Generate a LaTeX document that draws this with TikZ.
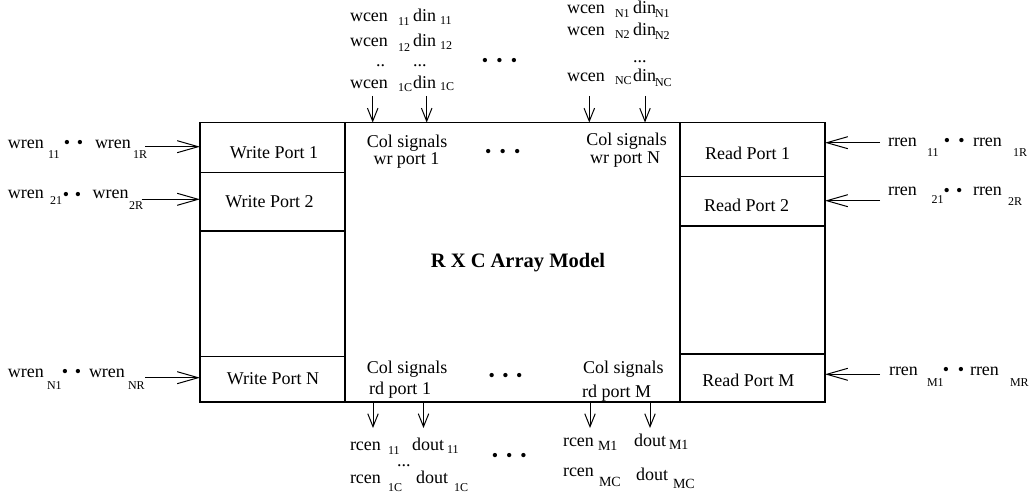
\documentclass[tikz,border=0pt]{standalone}
\usepackage{fontspec}
\setmainfont{Liberation Serif}
\usetikzlibrary{arrows.meta}
\tikzset{
  box/.style={draw, line width=1.25pt, inner sep=0pt, outer sep=0pt, anchor=north west},
  lbl/.style={inner sep=0pt, outer sep=0pt, anchor=base west, font=\fontsize{18}{20}\selectfont},
  sublbl/.style={inner sep=0pt, outer sep=0pt, anchor=base west, font=\fontsize{12}{12}\selectfont},
  bigsub/.style={inner sep=0pt, outer sep=0pt, anchor=base west, font=\fontsize{14}{14}\selectfont},
  ctr/.style={inner sep=0pt, outer sep=0pt, anchor=base, font=\fontsize{18}{20}\selectfont},
  titlelbl/.style={inner sep=0pt, outer sep=0pt, anchor=base, font=\fontsize{20.5}{22}\selectfont\bfseries},
  hsig/.style={line width=1pt, -{Straight Barb[length=21pt,width=12pt]}},
  vsig/.style={line width=1pt, -{Straight Barb[length=13pt,width=10.5pt]}}
}
\newcommand{\mylbl}[4]{\node[lbl] (#1) at (#2,#3) {#4};}
\newcommand{\mysub}[4]{\node[sublbl] (#1) at (#2,#3) {#4};}
\newcommand{\mybsub}[4]{\node[bigsub] (#1) at (#2,#3) {#4};}
\newcommand{\twodots}[4]{\node[lbl] (#1) at (#2,#3) {•\hspace{#4}•};}
\newcommand{\threedots}[4]{\node[lbl] (#1) at (#2,#3) {•\hspace{#4}•\hspace{#4}•};}
\begin{document}
\begin{tikzpicture}[x=1pt,y=-1pt]
\fill[white] (0,0) rectangle (1031,497);
\useasboundingbox (0,0) rectangle (1031,497);

% main blocks
\node[box, minimum width=145pt, minimum height=279.5pt] (wcol) at (200,122.5) {};
\node[box, minimum width=335pt, minimum height=279.5pt] (arr) at (345,122.5) {};
\node[box, minimum width=145pt, minimum height=279.5pt] (rcol) at (680,122.5) {};
\node[box, minimum width=145pt, minimum height=50pt] (wp1) at (200,122.5) {};
\node[box, minimum width=145pt, minimum height=58.5pt] (wp2) at (200,172.5) {};
\node[box, minimum width=145pt, minimum height=45.5pt] (wpN) at (200,356.5) {};
\node[box, minimum width=145pt, minimum height=54pt] (rp1) at (680,122.5) {};
\node[box, minimum width=145pt, minimum height=49.5pt] (rp2) at (680,176.5) {};
\node[box, minimum width=145pt, minimum height=48pt] (rpM) at (680,354) {};

% port labels
\node[ctr] (twp1) at (274,158.3) {Write Port 1};
\node[ctr] (twp2) at (269.5,207.3) {Write Port 2};
\node[ctr] (twpN) at (273,384) {Write Port N};
\node[ctr] (trp1) at (747.5,160) {Read Port 1};
\node[ctr] (trp2) at (746.5,211.7) {Read Port 2};
\node[ctr] (trpM) at (748.3,386) {Read Port M};

% array contents
\node[ctr] (cw1a) at (407,147.3) {Col signals};
\node[ctr] (cw1b) at (406.5,164.5) {wr port 1};
\node[ctr] (cwNa) at (626.5,145.7) {Col signals};
\node[ctr] (cwNb) at (625,163.3) {wr port N};
\node[ctr] (cr1a) at (407,373.5) {Col signals};
\node[ctr] (cr1b) at (400,394.5) {rd port 1};
\node[ctr] (crMa) at (623.3,373.5) {Col signals};
\node[ctr] (crMb) at (616.7,397) {rd port M};
\node[titlelbl] (title) at (518,267) {R X C Array Model};
\threedots{adt}{485.2}{157.7}{8.2pt}
\threedots{adb}{488.5}{381.7}{7.5pt}

% top inputs
\mylbl{tw1}{350}{21.7}{wcen}  \mysub{tw1s}{398}{26}{11}
\mylbl{td1}{413}{21.7}{din}   \mysub{td1s}{440}{25}{11}
\mylbl{tw2}{350}{46.7}{wcen}  \mysub{tw2s}{398}{51.5}{12}
\mylbl{td2}{413}{46.7}{din}   \mysub{td2s}{440}{50}{12}
\mylbl{tw3}{376}{66.7}{..}    \mylbl{td3}{413}{66.7}{...}
\mylbl{tw4}{350}{88.3}{wcen}  \mysub{tw4s}{398}{91.7}{1C}
\mylbl{td4}{413}{88.3}{din}   \mysub{td4s}{440}{90.7}{1C}

\mylbl{tn1}{567}{14}{wcen}    \mysub{tn1s}{615}{17.5}{N1}
\mylbl{tm1}{633}{14}{din}     \mysub{tm1s}{655}{18}{N1}
\mylbl{tn2}{567}{35.5}{wcen}  \mysub{tn2s}{615}{39}{N2}
\mylbl{tm2}{633}{35.5}{din}   \mysub{tm2s}{655}{39.5}{N2}
\mylbl{tm3}{633}{63}{...}
\mylbl{tn4}{567}{81.5}{wcen}  \mysub{tn4s}{615}{85}{NC}
\mylbl{tm4}{633}{81.5}{din}   \mysub{tm4s}{655}{87}{NC}
\threedots{tdots}{481.9}{67}{8.2pt}

\coordinate (t1) at (372.7,96);
\coordinate (t2) at (426.7,96);
\coordinate (t3) at (589.3,96);
\coordinate (t4) at (645,96);
\draw[vsig] (t1) -- (t1 |- arr.north);
\draw[vsig] (t2) -- (t2 |- arr.north);
\draw[vsig] (t3) -- (t3 |- arr.north);
\draw[vsig] (t4) -- (t4 |- arr.north);

% left inputs
\mylbl{wa1}{8}{148.3}{wren}   \mysub{wa1s}{48}{158.3}{11}
\twodots{wd1}{63.9}{149}{6.7pt}
\mylbl{wb1}{95}{148.3}{wren}  \mysub{wb1s}{133}{158.3}{1R}
\mylbl{wa2}{8}{199}{wren}     \mysub{wa2s}{50}{205}{21}
\twodots{wd2}{62.9}{201}{5.7pt}
\mylbl{wb2}{92.7}{199}{wren}  \mysub{wb2s}{129}{209.3}{2R}
\mylbl{waN}{8}{377.3}{wren}   \mysub{waNs}{47}{389.3}{N1}
\twodots{wdN}{61.9}{377.7}{6.7pt}
\mylbl{wbN}{89}{377.3}{wren}  \mysub{wbNs}{128}{389.3}{NR}

\coordinate (wl1) at (145,146.7);
\coordinate (wl2) at (141.7,199.3);
\coordinate (wlN) at (145,377.7);
\draw[hsig] (wl1) -- (wl1 -| wp1.west);
\draw[hsig] (wl2) -- (wl2 -| wp2.west);
\draw[hsig] (wlN) -- (wlN -| wpN.west);

% right inputs
\mylbl{ra1}{888}{146.7}{rren}   \mysub{ra1s}{927}{156.7}{11}
\twodots{rd1}{943.9}{146.7}{8.2pt}
\mylbl{rb1}{973}{146.7}{rren}   \mysub{rb1s}{1013}{156.7}{1R}
\mylbl{ra2}{888}{196}{rren}     \mysub{ra2s}{931.7}{203.3}{21}
\twodots{rd2}{943.5}{196.7}{6.3pt}
\mylbl{rb2}{973}{196}{rren}     \mysub{rb2s}{1008}{206}{2R}
\mylbl{raM}{889}{375}{rren}     \mysub{raMs}{927}{386.7}{M1}
\twodots{rdM}{942.9}{375}{8.7pt}
\mylbl{rbM}{970}{375}{rren}     \mysub{rbMs}{1010}{386.7}{MR}

\coordinate (rl1) at (880,142.7);
\coordinate (rl2) at (880,200.7);
\coordinate (rlM) at (880,374.3);
\draw[hsig] (rl1) -- (rl1 -| rp1.east);
\draw[hsig] (rl2) -- (rl2 -| rp2.east);
\draw[hsig] (rlM) -- (rlM -| rpM.east);

% bottom outputs
\coordinate (b1) at (373,428);
\coordinate (b2) at (423.5,428);
\coordinate (b3) at (590,428);
\coordinate (b4) at (650,428);
\draw[vsig] (b1 |- arr.south) -- (b1);
\draw[vsig] (b2 |- arr.south) -- (b2);
\draw[vsig] (b3 |- arr.south) -- (b3);
\draw[vsig] (b4 |- arr.south) -- (b4);

\mylbl{ba1}{350}{450}{rcen}    \mysub{ba1s}{388}{454.3}{11}
\mylbl{bb1}{412}{450}{dout}    \mysub{bb1s}{447}{453.3}{11}
\mylbl{bc1}{397}{466.5}{...}
\mylbl{ba2}{350}{483.3}{rcen}  \mysub{ba2s}{388}{491.7}{1C}
\mylbl{bb2}{416}{483}{dout}    \mysub{bb2s}{454}{491.7}{1C}
\threedots{bdots}{491.9}{461}{7.9pt}
\mylbl{bm1}{563}{446.7}{rcen}  \mybsub{bm1s}{598}{450}{M1}
\mylbl{bn1}{634}{446.7}{dout}  \mybsub{bn1s}{669}{449}{M1}
\mylbl{bm2}{563}{476.7}{rcen}  \mybsub{bm2s}{599}{486.7}{MC}
\mylbl{bn2}{636}{480}{dout}    \mybsub{bn2s}{673}{488.3}{MC}
\end{tikzpicture}
\end{document}
